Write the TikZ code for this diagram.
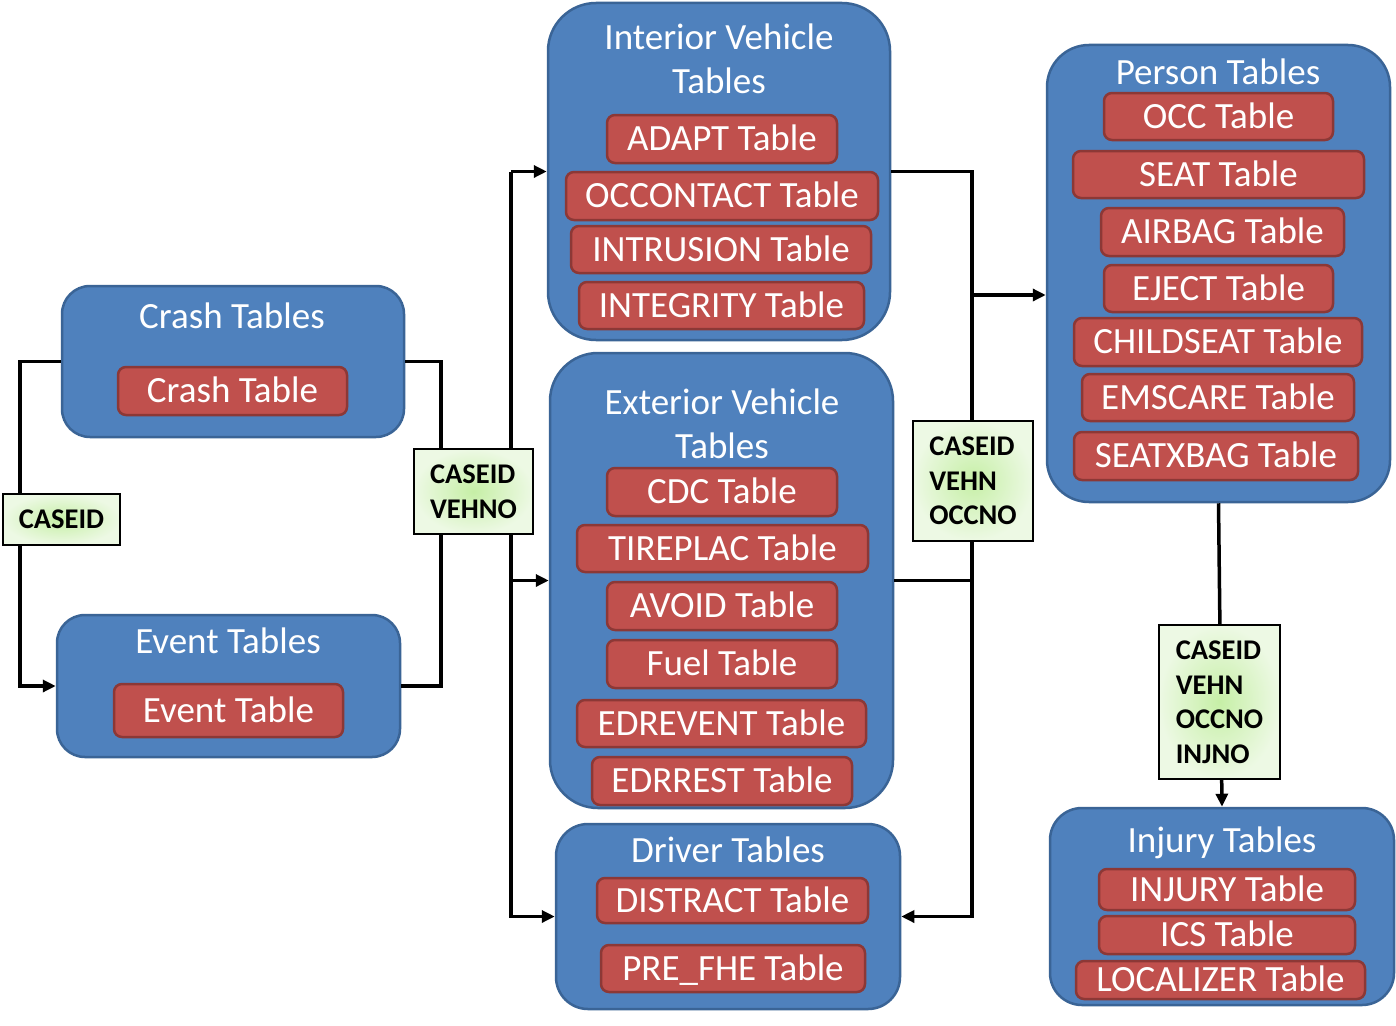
\documentclass[tikz,border=0pt]{standalone}
\usepackage{fontspec}
\setmainfont{Carlito}
\usetikzlibrary{arrows.meta,shadings}
\definecolor{bluefill}{HTML}{4F81BD}
\definecolor{blueedge}{HTML}{3A6496}
\definecolor{redfill}{HTML}{C0504D}
\definecolor{rededge}{HTML}{8C3836}
\definecolor{grin}{HTML}{C6EFA6}
\definecolor{grout}{HTML}{EDF9E4}
\tikzset{
  grp/.style={draw=blueedge, line width=2.5pt, fill=bluefill, rounded corners=#1, inner sep=0pt},
  grp/.default=30pt,
  tablebox/.style={draw=rededge, line width=2.5pt, fill=redfill, rounded corners=8pt, text=white,
    font=\fontsize{37}{44}\selectfont, text height=23pt, text depth=0pt, inner sep=0pt},
  grouptitle/.style={text=white, font=\fontsize{37}{44}\selectfont, text height=23pt, text depth=0pt, inner sep=0pt},
  keybox/.style={draw=black, line width=1.5pt, shading=radial, inner color=grin, outer color=grout,
    font=\bfseries\fontsize{28.5}{34.5}\selectfont, align=left, inner sep=0pt},
  conn/.style={line width=3.5pt, line join=miter, draw=black},
  arr/.style={conn, -{Triangle[length=13pt,width=12pt]}},
}
\newcommand\areabox[6]{\node[grp=#6, minimum width={(#4-#2)*1pt}, minimum height={(#5-#3)*1pt}] (#1) at ({(#2+#4)/2},{(#3+#5)/2}) {};}
\newcommand\tabbox[6]{\node[tablebox, minimum width={(#4-#2)*1pt}, minimum height={(#5-#3)*1pt}] (#1) at ({(#2+#4)/2},{(#3+#5)/2}) {#6};}
\newcommand\keyb[6]{\node[keybox, minimum width={(#4-#2)*1pt}, minimum height={(#5-#3)*1pt}] (#1) at ({(#2+#4)/2},{(#3+#5)/2}) {#6};}
\begin{document}
\begin{tikzpicture}[x=1pt,y=-1pt]
\useasboundingbox (0,0) rectangle (1396,1025);
\fill[white] (0,0) rectangle (1396,1025);

% group boxes
\areabox{crash}{62}{286}{404}{437}{28pt}
\areabox{event}{57}{615}{400}{757}{28pt}
\areabox{interior}{548}{3}{890}{340}{48pt}
\areabox{exterior}{550}{353}{893}{808}{48pt}
\areabox{driver}{556}{824}{900}{1009}{32pt}
\areabox{person}{1047}{45}{1390}{502}{42pt}
\areabox{injury}{1050}{808}{1394}{1005}{32pt}

% titles
\node[grouptitle] (tcrash) at (232,317) {Crash Tables};
\node[grouptitle] (tevent) at (228,642) {Event Tables};
\node[grouptitle] (tint1) at (719,38) {Interior Vehicle};
\node[grouptitle] (tint2) at (719,82) {Tables};
\node[grouptitle] (text1) at (722,403) {Exterior Vehicle};
\node[grouptitle] (text2) at (722,447) {Tables};
\node[grouptitle] (tdriver) at (728,851) {Driver Tables};
\node[grouptitle] (tperson) at (1218,73) {Person Tables};
\node[grouptitle] (tinjury) at (1222,841) {Injury Tables};

% tables
\tabbox{crasht}{118}{367}{347}{415}{Crash Table}
\tabbox{eventt}{114}{684}{343}{737}{Event Table}
\tabbox{adapt}{607}{115}{837}{163}{ADAPT Table}
\tabbox{occontact}{566}{172}{878}{220}{OCCONTACT Table}
\tabbox{intrusion}{571}{226}{871}{273}{INTRUSION Table}
\tabbox{integrity}{579}{282}{864}{329}{INTEGRITY Table}
\tabbox{cdc}{607}{468}{837}{516}{CDC Table}
\tabbox{tireplac}{577}{525}{868}{572}{TIREPLAC Table}
\tabbox{avoid}{607}{582}{837}{630}{AVOID Table}
\tabbox{fuel}{607}{640}{837}{688}{Fuel Table}
\tabbox{edrevent}{577}{700}{866}{747}{EDREVENT Table}
\tabbox{edrrest}{592}{757}{852}{805}{EDRREST Table}
\tabbox{distract}{597}{878}{868}{923}{DISTRACT Table}
\tabbox{prefhe}{601}{945}{865}{992}{PRE\_FHE Table}
\tabbox{occ}{1104}{93}{1333}{140}{OCC Table}
\tabbox{seat}{1073}{151}{1364}{198}{SEAT Table}
\tabbox{airbag}{1101}{208}{1344}{256}{AIRBAG Table}
\tabbox{eject}{1104}{265}{1333}{312}{EJECT Table}
\tabbox{childseat}{1074}{318}{1362}{366}{CHILDSEAT Table}
\tabbox{emscare}{1082}{374}{1354}{421}{EMSCARE Table}
\tabbox{seatxbag}{1074}{432}{1358}{480}{SEATXBAG Table}
\tabbox{injuryt}{1099}{869}{1355}{910}{INJURY Table}
\tabbox{ics}{1099}{916}{1355}{954}{ICS Table}
\tabbox{localizer}{1076}{961}{1365}{999}{LOCALIZER Table}

% connectors
\coordinate (lA) at (20,361.5);
\coordinate (rA) at (441,361.5);
\coordinate (bT) at (511,171.5);
\coordinate (bB) at (511,916.5);
\coordinate (rT) at (972,171.5);
\coordinate (rB) at (972,916.5);
\coordinate (pj) at (972,295);

\draw[arr] (crash.west) -- (lA) |- (event.west);
\draw[conn] (crash.east) -- (rA) |- (event.east);
\draw[arr] (bT) -- (bB) -- (driver.west);
\draw[arr] (bT) -- (interior.west);
\draw[arr] (bT |- exterior.west) -- (exterior.west);
\draw[arr] (interior.east) -- (rT) -- (rB) -- (driver.east);
\draw[conn] (exterior.east) -- (exterior.east -| rT);
\draw[arr] (pj) -- (pj -| person.west);
\draw[arr] (person.south) -- (injury.north);

% key boxes
\keyb{k1}{3}{494}{120}{545}{CASEID}
\keyb{k2}{414}{449}{533}{534}{CASEID\\VEHNO}
\keyb{k3}{913}{421}{1033}{541}{CASEID\\VEHN\\OCCNO}
\keyb{k4}{1159}{625}{1280}{779}{CASEID\\VEHN\\OCCNO\\INJNO}
\end{tikzpicture}
\end{document}
